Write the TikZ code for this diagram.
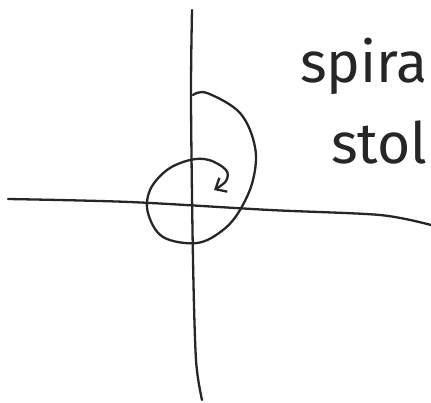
\documentclass[tikz,border=0pt]{standalone}
\usepackage{fontspec}
\setmainfont{Fira Sans}
\usetikzlibrary{arrows.meta}

\begin{document}
\begin{tikzpicture}[x=1pt, y=-1pt,
        pen/.style={draw=black!85, line width=2.3pt, line cap=round, line join=round},
        axis/.style={pen},
        spiral/.style={pen, -{Straight Barb[length=9pt, width=16pt, line width=2.3pt]}},
        note/.style={anchor=base west, inner sep=0pt, text=black!85, font=\fontsize{57}{57}\selectfont}
      ]
      \useasboundingbox (0,0) rectangle (431,402);

      % Axes
      \draw[axis] plot[smooth] coordinates {(192,10) (191,100) (193,260) (196,360) (202,400)};
      \draw[axis] plot[smooth] coordinates {(8,199) (130,202) (270,210) (380,215) (431,225)};

      % Spiral, ending in a hook
      \draw[spiral] plot[smooth, tension=0.6] coordinates {
        (193,95) (207,93) (240,113) (255,147) (253,180) (240,210) (223,230)
        (197,243) (163,237) (148,213) (150,190) (167,170) (190,160) (209,160)
        (226,170) (226,181) (214,190)};

      % Note
      \node[note] (line1) at (300,82) {spira};
      \node[note] (line2) at (331,163) {stol};

    \end{tikzpicture}
\end{document}
